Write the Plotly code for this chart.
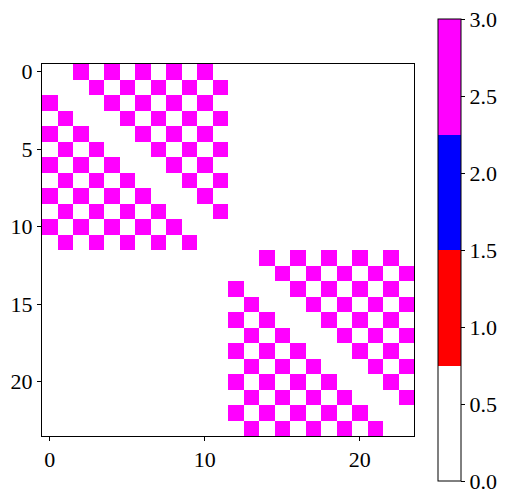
import plotly.graph_objects as go

# 24x24 matrix values (0 = empty, 3 = magenta)
z_values = [
    [0,0,3,0,3,0,3,0,3,0,3,0, 0,0,0,0,0,0,0,0,0,0,0,0],
    [0,0,0,3,0,3,0,3,0,3,0,3, 0,0,0,0,0,0,0,0,0,0,0,0],
    [3,0,0,0,3,0,3,0,3,0,3,0, 0,0,0,0,0,0,0,0,0,0,0,0],
    [0,3,0,0,0,3,0,3,0,3,0,3, 0,0,0,0,0,0,0,0,0,0,0,0],
    [3,0,3,0,0,0,3,0,3,0,3,0, 0,0,0,0,0,0,0,0,0,0,0,0],
    [0,3,0,3,0,0,0,3,0,3,0,3, 0,0,0,0,0,0,0,0,0,0,0,0],
    [3,0,3,0,3,0,0,0,3,0,3,0, 0,0,0,0,0,0,0,0,0,0,0,0],
    [0,3,0,3,0,3,0,0,0,3,0,3, 0,0,0,0,0,0,0,0,0,0,0,0],
    [3,0,3,0,3,0,3,0,0,0,3,0, 0,0,0,0,0,0,0,0,0,0,0,0],
    [0,3,0,3,0,3,0,3,0,0,0,3, 0,0,0,0,0,0,0,0,0,0,0,0],
    [3,0,3,0,3,0,3,0,3,0,0,0, 0,0,0,0,0,0,0,0,0,0,0,0],
    [0,3,0,3,0,3,0,3,0,3,0,0, 0,0,0,0,0,0,0,0,0,0,0,0],
    [0,0,0,0,0,0,0,0,0,0,0,0, 0,0,3,0,3,0,3,0,3,0,3,0],
    [0,0,0,0,0,0,0,0,0,0,0,0, 0,0,0,3,0,3,0,3,0,3,0,3],
    [0,0,0,0,0,0,0,0,0,0,0,0, 3,0,0,0,3,0,3,0,3,0,3,0],
    [0,0,0,0,0,0,0,0,0,0,0,0, 0,3,0,0,0,3,0,3,0,3,0,3],
    [0,0,0,0,0,0,0,0,0,0,0,0, 3,0,3,0,0,0,3,0,3,0,3,0],
    [0,0,0,0,0,0,0,0,0,0,0,0, 0,3,0,3,0,0,0,3,0,3,0,3],
    [0,0,0,0,0,0,0,0,0,0,0,0, 3,0,3,0,3,0,0,0,3,0,3,0],
    [0,0,0,0,0,0,0,0,0,0,0,0, 0,3,0,3,0,3,0,0,0,3,0,3],
    [0,0,0,0,0,0,0,0,0,0,0,0, 3,0,3,0,3,0,3,0,0,0,3,0],
    [0,0,0,0,0,0,0,0,0,0,0,0, 0,3,0,3,0,3,0,3,0,0,0,3],
    [0,0,0,0,0,0,0,0,0,0,0,0, 3,0,3,0,3,0,3,0,3,0,0,0],
    [0,0,0,0,0,0,0,0,0,0,0,0, 0,3,0,3,0,3,0,3,0,3,0,0],
]
x_ticks = [0, 10, 20]
y_ticks = [0, 5, 10, 15, 20]
cbar_ticks = [0.0, 0.5, 1.0, 1.5, 2.0, 2.5, 3.0]
level_colors = ["#ffffff", "#ff0000", "#0000ff", "#ff00ff"]

n = len(level_colors)
colorscale = []
for k, c in enumerate(level_colors):
    colorscale.append([k / n, c])
    colorscale.append([(k + 1) / n, c])

font = dict(family="Liberation Serif", size=22, color="black")

fig = go.Figure(go.Heatmap(
    z=z_values,
    zmin=0, zmax=3,
    colorscale=colorscale,
    hoverinfo="skip",
    colorbar=dict(
        x=1.0645, xanchor="left", xref="paper",
        y=0.5, yanchor="middle",
        xpad=0, ypad=0,
        thickness=23, thicknessmode="pixels",
        len=462, lenmode="pixels",
        outlinewidth=1, outlinecolor="black",
        tickvals=cbar_ticks, tickformat=".1f",
        ticks="outside", ticklen=4, tickcolor="black",
        tickfont=font, ticklabeloverflow="allow",
    ),
))

# page body adds an 8px offset, so the figure is sized to fit inside it
fig.update_layout(
    width=502, height=488,
    margin=dict(l=34, r=96, t=56, b=60, autoexpand=False),
    plot_bgcolor="white", paper_bgcolor="white",
    font=font,
)
fig.update_xaxes(
    range=[-0.5, 23.5], tickvals=x_ticks, ticks="outside", ticklen=4,
    tickcolor="black", showgrid=False, zeroline=False,
    showline=True, linecolor="black", linewidth=1, mirror=True,
    tickfont=font, automargin=False,
)
fig.update_yaxes(
    range=[23.5, -0.5], tickvals=y_ticks, ticks="outside", ticklen=4,
    tickcolor="black", showgrid=False, zeroline=False,
    showline=True, linecolor="black", linewidth=1, mirror=True,
    tickfont=font, automargin=False,
)

fig.write_html("out.html")
